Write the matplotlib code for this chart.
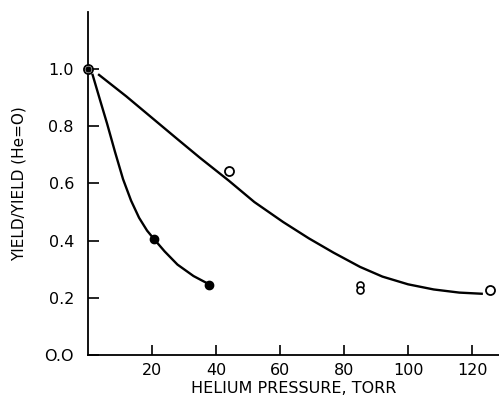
import matplotlib
matplotlib.use("Agg")
import matplotlib.pyplot as plt

# gemeten punten (open cirkels = reeks 1, dichte cirkels = reeks 2)
open_x = [0, 44, 85, 85, 125.6]
open_y = [1.0, 0.643, 0.246, 0.228, 0.228]
vol_x = [0, 20.7, 37.9]
vol_y = [1.0, 0.405, 0.245]

# met de hand getekende curves
curve_open_x = [3.5, 12, 20, 28, 35, 44, 52, 61, 69, 76.7, 85, 92, 100, 108, 116, 123]
curve_open_y = [0.98, 0.905, 0.83, 0.755, 0.69, 0.61, 0.535, 0.465, 0.408, 0.358,
                0.308, 0.274, 0.247, 0.229, 0.218, 0.214]
curve_vol_x = [1.5, 4, 6, 8.5, 11, 13.5, 16, 18.5, 20.7, 24, 28, 33, 37.9]
curve_vol_y = [0.98, 0.885, 0.81, 0.71, 0.615, 0.54, 0.48, 0.435, 0.405, 0.362,
               0.316, 0.276, 0.247]

xticks = [20, 40, 60, 80, 100, 120]
yticks = [0.0, 0.2, 0.4, 0.6, 0.8, 1.0]
ylabels = ["O.O", "0.2", "0.4", "0.6", "0.8", "1.0"]

fig = plt.figure(figsize=(4.99, 4.01), dpi=100)
ax = fig.add_axes([0.176, 0.115, 0.824, 0.855])

ax.plot(curve_open_x, curve_open_y, color="black", lw=1.7, solid_joinstyle="round")
ax.plot(curve_vol_x, curve_vol_y, color="black", lw=1.7, solid_joinstyle="round")
ax.plot(open_x[:2], open_y[:2], "o", mfc="white", mec="black", ms=6.5, mew=1.3, clip_on=False, zorder=3)
ax.plot(open_x[2:4], open_y[2:4], "o", mfc="white", mec="black", ms=5, mew=1.2, clip_on=False, zorder=3)
ax.plot(open_x[4:], open_y[4:], "o", mfc="white", mec="black", ms=6.5, mew=1.3, clip_on=False, zorder=3)
ax.plot(vol_x[1:], vol_y[1:], "o", color="black", ms=6, clip_on=False, zorder=3)
ax.plot(vol_x[:1], vol_y[:1], "o", color="black", ms=3.5, clip_on=False, zorder=4)

ax.set_xlim(0, 128.4)
ax.set_ylim(0, 1.2)
ax.spines["top"].set_visible(False)
ax.spines["right"].set_visible(False)
ax.spines["left"].set_linewidth(1.3)
ax.spines["bottom"].set_linewidth(1.3)
ax.set_xticks(xticks)
ax.set_xticklabels([str(t) for t in xticks])
ax.set_yticks(yticks)
ax.set_yticklabels(ylabels)
ax.tick_params(direction="in", width=1.2, labelsize=11.5)
ax.tick_params(axis="y", length=8, pad=10)
ax.tick_params(axis="x", length=7, pad=6)
ax.set_xlabel("HELIUM PRESSURE, TORR", fontsize=11.5, labelpad=2)
ax.set_ylabel("YIELD/YIELD (He=O)", fontsize=11, labelpad=13)

plt.savefig("out.png", dpi=100)
